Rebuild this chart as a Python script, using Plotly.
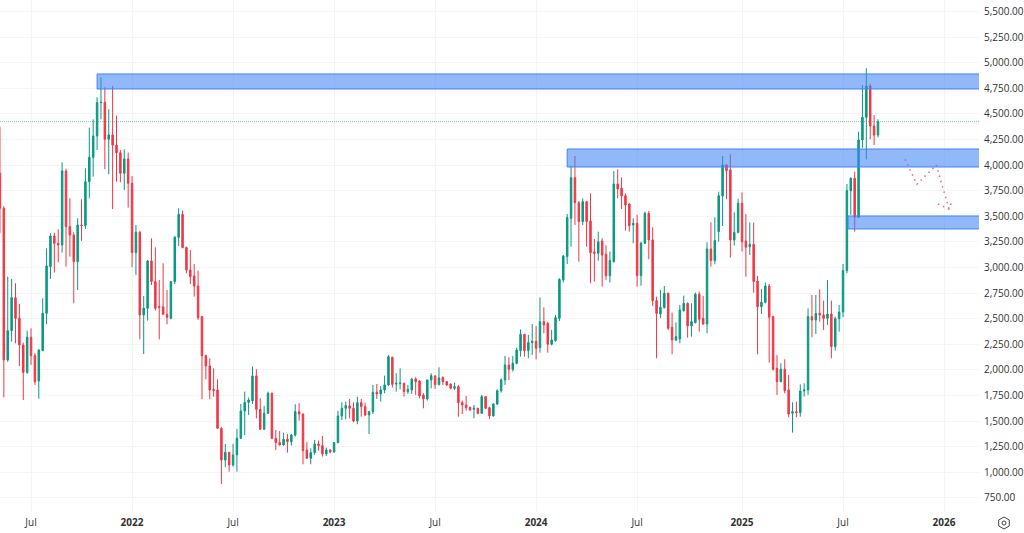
import pandas as pd
import plotly.graph_objects as go

# weekly candles, first bar week of 2021-05-10
open_prices = [3920, 3579, 2098, 2384, 2706, 2505, 2244, 1977,
    2319, 2140, 1893, 2189, 2553, 3010, 3309, 3237, 3220, 3943,
    3400, 3318, 3058, 3416, 3410, 3839, 4077, 4285, 4611, 4614,
    4253, 4295, 4197, 4122, 3921, 4061, 3823, 3146, 3345, 2537,
    2602, 3065, 2863, 2620, 2618, 2544, 2505, 2863, 3296, 3520,
    3195, 2977, 2918, 2820, 2521, 2140, 2039, 1810, 1805, 1430,
    1121, 1196, 1072, 1170, 1333, 1600, 1684, 1700, 1942, 1616,
    1421, 1577, 1772, 1333, 1291, 1268, 1323, 1300, 1365, 1593,
    1570, 1219, 1138, 1193, 1278, 1261, 1180, 1219, 1199, 1291,
    1551, 1626, 1649, 1626, 1502, 1681, 1642, 1561, 1593, 1782,
    1766, 1805, 1854, 2124, 1863, 1867, 1870, 1789, 1805, 1912,
    1893, 1756, 1717, 1902, 1942, 1857, 1929, 1886, 1863, 1821,
    1837, 1681, 1658, 1636, 1616, 1626, 1577, 1740, 1632, 1551,
    1668, 1798, 1902, 2049, 2007, 2065, 2189, 2348, 2189, 2267,
    2280, 2218, 2472, 2456, 2251, 2286, 2505, 2879, 3107, 3481,
    3878, 3634, 3449, 3644, 3455, 3152, 3139, 3260, 3130, 2921,
    3058, 3816, 3774, 3702, 3621, 3416, 3432, 2921, 3237, 3530,
    3270, 2677, 2547, 2609, 2749, 2417, 2293, 2303, 2579, 2651,
    2430, 2462, 2739, 2505, 2449, 3182, 3068, 3351, 3699, 4002,
    3953, 3270, 3344, 3628, 3260, 3204, 3227, 2869, 2618, 2661,
    2820, 2521, 2016, 1886, 2007, 1805, 1577, 1593, 1583, 1795,
    1805, 2521, 2488, 2553, 2537, 2505, 2547, 2228, 2501, 2566,
    2970, 3751, 3872, 3491, 4246, 4467, 4773, 4383, 4295]
high_prices = [4376, 3600, 2912, 2889, 2847, 2645, 2267, 2384,
    2407, 2163, 2202, 2700, 3188, 3335, 3341, 3374, 4028, 3966,
    3677, 3345, 3481, 3667, 3969, 4367, 4448, 4663, 4858, 4761,
    4546, 4774, 4484, 4148, 4155, 4123, 3895, 3416, 3358, 2723,
    3074, 3286, 3198, 2879, 3042, 2781, 2863, 3309, 3579, 3556,
    3205, 3172, 3035, 2970, 2530, 2150, 2114, 2016, 1909, 1440,
    1278, 1196, 1278, 1424, 1668, 1789, 1730, 2033, 2007, 1723,
    1649, 1789, 1780, 1414, 1404, 1388, 1375, 1375, 1665, 1675,
    1575, 1294, 1235, 1317, 1310, 1356, 1242, 1225, 1295, 1600,
    1684, 1690, 1717, 1684, 1740, 1717, 1681, 1600, 1854, 1863,
    1844, 1945, 2147, 2130, 1968, 2016, 1875, 1854, 1919, 1929,
    1900, 1772, 1905, 1968, 1950, 2026, 1935, 1890, 1868, 1876,
    1854, 1701, 1746, 1640, 1658, 1630, 1756, 1745, 1640, 1672,
    1811, 1919, 2137, 2124, 2137, 2218, 2397, 2350, 2342, 2449,
    2430, 2710, 2612, 2470, 2391, 2537, 2895, 3123, 3523, 3992,
    4090, 3650, 3676, 3650, 3725, 3279, 3351, 3286, 3217, 3156,
    3943, 3960, 3881, 3725, 3630, 3481, 3514, 3253, 3546, 3553,
    3393, 2716, 2781, 2820, 2755, 2560, 2465, 2635, 2726, 2660,
    2651, 2755, 2765, 2723, 3247, 3442, 3491, 3741, 4090, 4010,
    4106, 3540, 3673, 3735, 3523, 3442, 3439, 2918, 2791, 2853,
    2840, 2530, 2147, 2065, 2104, 1951, 1684, 1691, 1860, 1870,
    2602, 2733, 2733, 2788, 2677, 2879, 2677, 2521, 2635, 3035,
    3816, 3881, 3937, 4327, 4783, 4946, 4793, 4490, 4448]
low_prices = [3335, 1733, 2081, 2277, 2260, 2039, 1707, 1961,
    2049, 1854, 1720, 2185, 2446, 2889, 2951, 3052, 3146, 3009,
    3107, 2651, 2781, 3260, 3377, 3677, 3888, 4149, 4448, 3960,
    3911, 3572, 3839, 3833, 3758, 3585, 3003, 2928, 2300, 2156,
    2482, 2830, 2580, 2300, 2537, 2446, 2495, 2840, 3211, 3190,
    2944, 2840, 2716, 2488, 1714, 1909, 1714, 1740, 1425, 887,
    1050, 1007, 1056, 1007, 1325, 1365, 1561, 1668, 1528, 1414,
    1415, 1570, 1323, 1219, 1261, 1260, 1193, 1261, 1349, 1505,
    1079, 1131, 1079, 1170, 1212, 1154, 1160, 1186, 1195, 1285,
    1512, 1518, 1528, 1489, 1470, 1544, 1551, 1375, 1570, 1717,
    1691, 1772, 1844, 1828, 1789, 1811, 1740, 1766, 1766, 1756,
    1723, 1626, 1701, 1821, 1815, 1850, 1854, 1845, 1811, 1805,
    1544, 1570, 1603, 1600, 1528, 1567, 1570, 1616, 1522, 1545,
    1658, 1779, 1854, 1902, 1984, 2055, 2130, 2130, 2114, 2147,
    2104, 2169, 2358, 2169, 2240, 2277, 2478, 2856, 3035, 3204,
    3416, 3058, 3416, 3204, 2846, 2863, 3068, 2814, 2879, 2853,
    3048, 3676, 3572, 3361, 3351, 3237, 2814, 2823, 3230, 3081,
    2625, 2114, 2505, 2600, 2391, 2153, 2283, 2260, 2570, 2316,
    2326, 2455, 2374, 2440, 2358, 3009, 3032, 3253, 3406, 3667,
    3097, 3214, 3335, 3156, 2911, 3123, 2755, 2153, 2547, 2650,
    2072, 1994, 1756, 1880, 1772, 1538, 1388, 1538, 1544, 1740,
    1756, 2319, 2352, 2472, 2391, 2440, 2114, 2189, 2374, 2514,
    2944, 3514, 3351, 3485, 4171, 4057, 4253, 4197, 4272]
close_prices = [3579, 2098, 2384, 2706, 2505, 2244, 1977, 2319,
    2140, 1886, 2195, 2553, 3016, 3309, 3237, 3220, 3943, 3400,
    3318, 3058, 3416, 3410, 3839, 4077, 4285, 4611, 4614, 4253,
    4295, 4197, 4122, 3921, 4061, 3823, 3146, 3345, 2537, 2602,
    3065, 2863, 2602, 2610, 2544, 2514, 2863, 3296, 3520, 3195,
    2977, 2912, 2820, 2511, 2140, 2039, 1805, 1800, 1430, 1121,
    1196, 1072, 1170, 1333, 1600, 1684, 1707, 1942, 1616, 1421,
    1577, 1772, 1333, 1291, 1268, 1323, 1300, 1365, 1593, 1570,
    1212, 1138, 1193, 1278, 1261, 1180, 1219, 1199, 1291, 1551,
    1626, 1652, 1626, 1502, 1681, 1642, 1561, 1593, 1782, 1766,
    1805, 1854, 2130, 1860, 1870, 1873, 1789, 1811, 1912, 1886,
    1746, 1717, 1902, 1945, 1857, 1922, 1886, 1854, 1821, 1837,
    1681, 1658, 1632, 1610, 1626, 1577, 1740, 1626, 1551, 1668,
    1798, 1902, 2049, 2007, 2065, 2195, 2348, 2189, 2267, 2280,
    2212, 2472, 2440, 2251, 2293, 2511, 2885, 3113, 3488, 3878,
    3634, 3449, 3644, 3449, 3146, 3139, 3253, 3123, 2921, 3068,
    3816, 3768, 3699, 3611, 3409, 3432, 2921, 3237, 3530, 3270,
    2677, 2553, 2612, 2749, 2407, 2293, 2326, 2586, 2651, 2430,
    2472, 2739, 2495, 2449, 3182, 3068, 3263, 3702, 4002, 3947,
    3270, 3344, 3628, 3253, 3198, 3227, 2863, 2618, 2661, 2820,
    2514, 2007, 1886, 2007, 1798, 1570, 1593, 1583, 1795, 1805,
    2521, 2488, 2553, 2537, 2505, 2547, 2228, 2501, 2566, 2970,
    3751, 3872, 3491, 4246, 4467, 4773, 4383, 4295, 4425]
assert len(open_prices) == len(high_prices) == len(low_prices) == len(close_prices) == 227

last_price = 4425

# axis ticks
x_tick_dates = ["2021-07-05", "2022-01-03", "2022-07-04", "2023-01-02", "2023-07-03",
                "2024-01-01", "2024-07-01", "2025-01-06", "2025-07-07", "2026-01-05"]
x_tick_labels = ["Jul", "<b>2022</b>", "Jul", "<b>2023</b>", "Jul",
                 "<b>2024</b>", "Jul", "<b>2025</b>", "Jul", "<b>2026</b>"]
y_ticks = [750, 1000, 1250, 1500, 1750, 2000, 2250, 2500, 2750, 3000, 3250,
           3500, 3750, 4000, 4250, 4500, 4750, 5000, 5250, 5500]

# drawn zones: start date, top price, bottom price
zone_starts = ["2021-11-01", "2024-02-26", "2025-07-16"]
zone_tops = [4891, 4158, 3504]
zone_bottoms = [4744, 3982, 3377]

# dotted projection path and its arrow head
path_dates = ["2025-10-27", "2025-11-17", "2025-12-22", "2026-01-14"]
path_prices = [4057, 3813, 4002, 3572]
arrow_dates = ["2025-12-25", "2026-01-14", "2026-01-19"]
arrow_prices = [3621, 3572, 3644]

GREEN = "#089981"
RED = "#F23645"
GRID = "#f3f4f6"
TEXT = "#333333"
FONT = "Open Sans"

dates = pd.date_range("2021-05-10", periods=len(close_prices), freq="7D")

fig = go.Figure()

fig.add_trace(go.Candlestick(
    x=dates,
    open=open_prices,
    high=high_prices,
    low=low_prices,
    close=close_prices,
    whiskerwidth=0,
    increasing=dict(line=dict(color=GREEN, width=1), fillcolor=GREEN),
    decreasing=dict(line=dict(color=RED, width=1), fillcolor=RED),
    hoverinfo="skip",
))

# projection drawn by hand on the chart
for xs, ys in [(path_dates, path_prices), (arrow_dates, arrow_prices)]:
    fig.add_trace(go.Scatter(
        x=xs, y=ys, mode="lines",
        line=dict(color="#f5616d", width=1.5, dash="1.5px,4px"),
        hoverinfo="skip",
    ))

shapes = [dict(type="line", xref="paper", yref="y", x0=0, x1=1, y0=last_price, y1=last_price,
               line=dict(color=GREEN, width=1, dash="1px,1px"), opacity=0.5)]
for start, top, bottom in zip(zone_starts, zone_tops, zone_bottoms):
    shapes.append(dict(type="rect", xref="x", yref="y", x0=start, x1="2026-06-01", y0=bottom, y1=top,
                       fillcolor="rgba(66,133,244,0.58)", line=dict(color="#4285f4", width=1), layer="above"))

# little settings icon in the bottom right corner
W, H = 979.0, 512.0
cx, cy = 1004 / W, (512 - 523) / H
rx, ry = 6 / W, 6 / H
hexagon = [(0, -1), (0.88, -0.5), (0.88, 0.5), (0, 1), (-0.88, 0.5), (-0.88, -0.5)]
path = "M " + " L ".join(f"{cx + a * rx:.5f} {cy + b * ry:.5f}" for a, b in hexagon) + " Z"
shapes.append(dict(type="path", xref="paper", yref="paper", path=path, line=dict(color="#444444", width=1)))
shapes.append(dict(type="circle", xref="paper", yref="paper", x0=cx - 2 / W, x1=cx + 2 / W,
                   y0=cy - 2 / H, y1=cy + 2 / H, line=dict(color="#444444", width=1)))

fig.update_layout(
    width=1024,
    height=533,
    margin=dict(l=0, r=45, t=0, b=21),
    paper_bgcolor="white",
    plot_bgcolor="white",
    showlegend=False,
    boxgap=0.45,
    shapes=shapes,
    font=dict(family=FONT, size=10, color=TEXT),
    xaxis=dict(
        type="date",
        range=["2021-05-10 02:00", "2026-03-09"],
        rangeslider_visible=False,
        tickmode="array",
        tickvals=x_tick_dates,
        ticktext=x_tick_labels,
        tickangle=0,
        showgrid=True,
        gridcolor=GRID,
        gridwidth=1,
        zeroline=False,
        showline=False,
        ticks="",
        ticklabelstandoff=3,
        tickfont=dict(family=FONT, size=10, color=TEXT),
    ),
    yaxis=dict(
        side="right",
        range=[613, 5613],
        tickmode="array",
        tickvals=y_ticks,
        tickformat=",.2f",
        showgrid=True,
        gridcolor=GRID,
        gridwidth=1,
        zeroline=False,
        showline=False,
        ticks="",
        ticklabelstandoff=4,
        tickfont=dict(family=FONT, size=10, color=TEXT),
    ),
)

# page margin would push the chart 8px off, drop it
fig.write_html("out.html", config=dict(displayModeBar=False),
               post_script="document.body.style.margin = '0';")
